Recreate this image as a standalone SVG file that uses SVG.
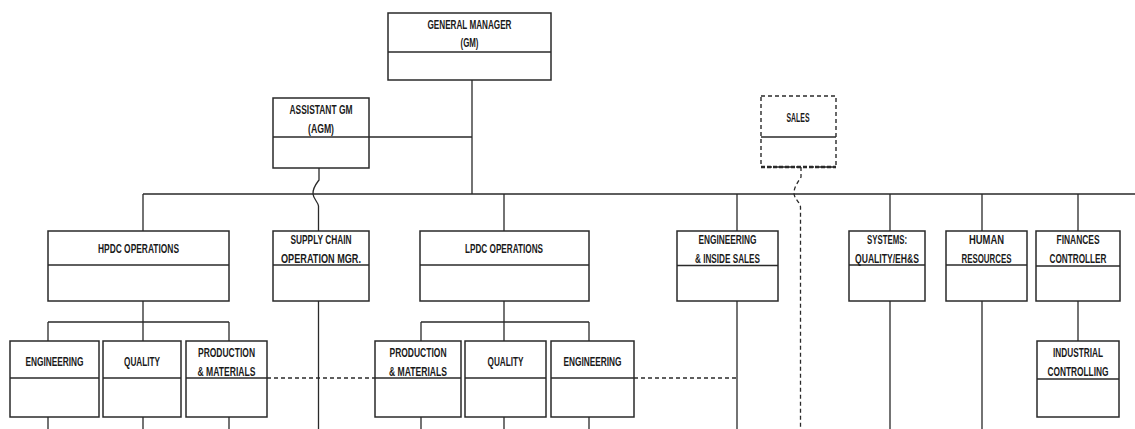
<svg xmlns="http://www.w3.org/2000/svg" width="1135" height="429" viewBox="0 0 1135 429">
<style>
.box{fill:#fff;stroke:#2a2a2a;stroke-width:1.5}
.div{fill:none;stroke:#2a2a2a;stroke-width:1.3}
.dbox{fill:#fff;stroke:#2a2a2a;stroke-width:1.4;stroke-dasharray:4 3}
.ln{fill:none;stroke:#2a2a2a;stroke-width:1.3}
.dl{fill:none;stroke:#2a2a2a;stroke-width:1.3;stroke-dasharray:4 3}
text{font-family:"Liberation Sans",Arial,sans-serif;font-weight:bold;font-size:13px;fill:#1a1a1a;text-anchor:middle}
text.s{font-size:12px}
</style>
<rect width="1135" height="429" fill="#fff"/>
<g id="connectors">
<path class="ln" d="M472,80V194M369,137H472M143,194H1135"/>
<path class="ln" d="M143,194V231M504,194V231M737,194V231M890,194V231M982,194V231M1078,194V231"/>
<path class="ln" d="M319,168V180C316,184 312.5,188 313,194C313.5,199 318,202 318.5,206V231"/>
<path class="ln" d="M143,301V322M48,322H229M48,322V341M143,322V341M229,322V341"/>
<path class="ln" d="M504,301V322M421,322H589M421,322V341M504,322V341M589,322V341"/>
<path class="ln" d="M48,417V429M143,417V429M229,417V429M421,417V429M504,417V429M589,417V429"/>
<path class="ln" d="M318.5,301V429M737,301V429M890,301V429M982,301V429M1078,301V341"/>
<path class="dl" d="M267,378H375M634,378H737"/>
<path class="dl" d="M801,167V177C798,182 794,187 794,193C794,199 800,202 800.5,207V429"/>
</g>
<g id="gm"><rect class="box" x="388" y="13" width="163" height="67"/><path class="div" d="M388,52H551"/>
<text x="469.5" y="28.5" textLength="84" lengthAdjust="spacingAndGlyphs">GENERAL MANAGER</text>
<text x="469.5" y="46.5" textLength="18" lengthAdjust="spacingAndGlyphs">(GM)</text></g>
<g id="agm"><rect class="box" x="273" y="98" width="96" height="70"/><path class="div" d="M273,137H369"/>
<text x="321" y="113.5" textLength="63" lengthAdjust="spacingAndGlyphs">ASSISTANT GM</text>
<text x="321" y="132.5" textLength="26" lengthAdjust="spacingAndGlyphs">(AGM)</text></g>
<g id="sales"><rect class="dbox" x="761" y="96" width="75" height="71"/><path class="div" d="M761,137H836"/><path d="M761,167H836" stroke="#2a2a2a" stroke-width="2.4" stroke-dasharray="4 2" fill="none"/>
<text x="798" y="121.5" textLength="23" lengthAdjust="spacingAndGlyphs">SALES</text></g>
<g id="hpdc"><rect class="box" x="48" y="231" width="181" height="70"/><path class="div" d="M48,265H229"/>
<text x="138.5" y="253" textLength="81" lengthAdjust="spacingAndGlyphs">HPDC OPERATIONS</text></g>
<g id="supply"><rect class="box" x="273" y="231" width="96" height="70"/><path class="div" d="M273,265H369"/>
<text x="321" y="243.5" textLength="61" lengthAdjust="spacingAndGlyphs">SUPPLY CHAIN</text>
<text x="321" y="263" textLength="80" lengthAdjust="spacingAndGlyphs">OPERATION MGR.</text></g>
<g id="lpdc"><rect class="box" x="420" y="231" width="169" height="70"/><path class="div" d="M420,265H589"/>
<text x="504" y="253" textLength="78" lengthAdjust="spacingAndGlyphs">LPDC OPERATIONS</text></g>
<g id="eng-sales"><rect class="box" x="677" y="231" width="101" height="70"/><path class="div" d="M677,265.5H778"/>
<text x="727.5" y="243.5" textLength="58" lengthAdjust="spacingAndGlyphs">ENGINEERING</text>
<text x="727.5" y="262.5" textLength="65" lengthAdjust="spacingAndGlyphs">&amp; INSIDE SALES</text></g>
<g id="systems"><rect class="box" x="849" y="231" width="76" height="70"/><path class="div" d="M849,265H925"/>
<text x="887" y="243.5" textLength="40" lengthAdjust="spacingAndGlyphs">SYSTEMS:</text>
<text x="887" y="262.5" textLength="64" lengthAdjust="spacingAndGlyphs">QUALITY/EH&amp;S</text></g>
<g id="hr"><rect class="box" x="946" y="231" width="81" height="70"/><path class="div" d="M946,265H1027"/>
<text x="986.5" y="243.5" textLength="35" lengthAdjust="spacingAndGlyphs">HUMAN</text>
<text x="986.5" y="262.5" textLength="50" lengthAdjust="spacingAndGlyphs">RESOURCES</text></g>
<g id="finances"><rect class="box" x="1036" y="231" width="84" height="70"/><path class="div" d="M1036,266H1120"/>
<text x="1078" y="243.5" textLength="43" lengthAdjust="spacingAndGlyphs">FINANCES</text>
<text class="s" x="1078" y="262.5" textLength="57" lengthAdjust="spacingAndGlyphs">CONTROLLER</text></g>
<g id="hpdc-eng"><rect class="box" x="10" y="341" width="89" height="76"/><path class="div" d="M10,378H99"/>
<text x="54.5" y="366" textLength="58" lengthAdjust="spacingAndGlyphs">ENGINEERING</text></g>
<g id="hpdc-qual"><rect class="box" x="103" y="341" width="78" height="76"/><path class="div" d="M103,378H181"/>
<text x="142" y="366" textLength="36" lengthAdjust="spacingAndGlyphs">QUALITY</text></g>
<g id="hpdc-prod"><rect class="box" x="186" y="341" width="81" height="76"/><path class="div" d="M186,378H267"/>
<text x="226.5" y="356.5" textLength="57" lengthAdjust="spacingAndGlyphs">PRODUCTION</text>
<text x="226.5" y="375.5" textLength="58" lengthAdjust="spacingAndGlyphs">&amp; MATERIALS</text></g>
<g id="lpdc-prod"><rect class="box" x="375" y="341" width="86" height="76"/><path class="div" d="M375,378H461"/>
<text x="418" y="356.5" textLength="57" lengthAdjust="spacingAndGlyphs">PRODUCTION</text>
<text x="418" y="375.5" textLength="58" lengthAdjust="spacingAndGlyphs">&amp; MATERIALS</text></g>
<g id="lpdc-qual"><rect class="box" x="465" y="341" width="81" height="76"/><path class="div" d="M465,378H546"/>
<text x="505.5" y="366" textLength="36" lengthAdjust="spacingAndGlyphs">QUALITY</text></g>
<g id="lpdc-eng"><rect class="box" x="551" y="341" width="83" height="76"/><path class="div" d="M551,378H634"/>
<text x="592.5" y="366" textLength="58" lengthAdjust="spacingAndGlyphs">ENGINEERING</text></g>
<g id="industrial"><rect class="box" x="1037" y="341" width="82" height="76"/><path class="div" d="M1037,379H1119"/>
<text x="1078" y="357" textLength="50" lengthAdjust="spacingAndGlyphs">INDUSTRIAL</text>
<text class="s" x="1078" y="376" textLength="61" lengthAdjust="spacingAndGlyphs">CONTROLLING</text></g>
</svg>
